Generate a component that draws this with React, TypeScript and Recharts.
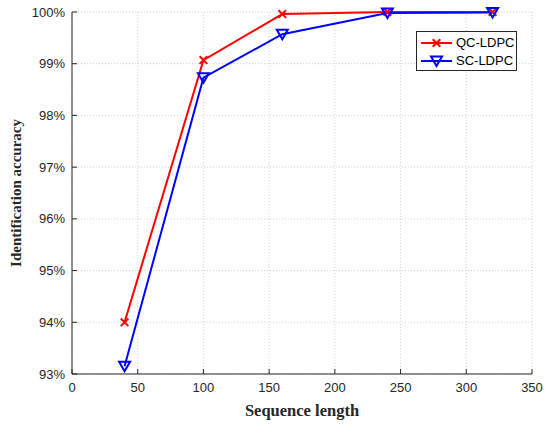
import React from "react";
import { CartesianGrid, Line, LineChart, XAxis, YAxis } from "recharts";

const seqLength = [40, 100, 160, 240, 320];
const qcAccuracy = [94.0, 99.07, 99.96, 100.0, 100.0];
const scAccuracy = [93.15, 98.73, 99.57, 99.98, 99.99];
const xTicks = [0, 50, 100, 150, 200, 250, 300, 350];
const yTicks = [93, 94, 95, 96, 97, 98, 99, 100];

const data = seqLength.map((len, i) => ({ len, qc: qcAccuracy[i], sc: scAccuracy[i] }));

const series = [
  { key: "qc", name: "QC-LDPC", color: "#ff0000", marker: "x" },
  { key: "sc", name: "SC-LDPC", color: "#0000ff", marker: "v" }
];

const tickFont = { fontFamily: "Liberation Sans, Arial, sans-serif", fontSize: 13, fill: "#262626" };
const labelFont = { fontFamily: "Liberation Serif, Times New Roman, serif", fontSize: 16, fontWeight: 700, fill: "#262626" };

function CrossDot(props: any) {
  const { cx, cy, stroke } = props;
  if (cx == null || cy == null) return null;
  const s = 3.8;
  return (
    <g stroke={stroke} strokeWidth={2}>
      <line x1={cx - s} y1={cy - s} x2={cx + s} y2={cy + s} />
      <line x1={cx - s} y1={cy + s} x2={cx + s} y2={cy - s} />
    </g>
  );
}

function TriangleDot(props: any) {
  const { cx, cy, stroke } = props;
  if (cx == null || cy == null) return null;
  const pts = `${cx - 5.5},${cy - 4.5} ${cx + 5.5},${cy - 4.5} ${cx},${cy + 5}`;
  return <polygon points={pts} fill="none" stroke={stroke} strokeWidth={2} />;
}

function Blank() {
  return <g />;
}

function LegendBox() {
  return (
    <div
      style={{
        position: "absolute",
        left: 416,
        top: 31,
        width: 99,
        height: 38,
        border: "1px solid #262626",
        background: "#fff",
        fontFamily: "Liberation Sans, Arial, sans-serif",
        fontSize: 13,
        color: "#000"
      }}
    >
      {series.map((s, i) => (
        <div key={s.key} style={{ position: "absolute", left: 3, top: 3 + i * 18, height: 15, display: "flex", alignItems: "center" }}>
          <svg width={34} height={14}>
            <line x1={1} y1={7} x2={32} y2={7} stroke={s.color} strokeWidth={2} />
            {s.marker === "x" ? <CrossDot cx={16.5} cy={7} stroke={s.color} /> : <TriangleDot cx={16.5} cy={7} stroke={s.color} />}
          </svg>
          <span style={{ marginLeft: 2 }}>{s.name}</span>
        </div>
      ))}
    </div>
  );
}

export default function App() {
  return (
    <div style={{ position: "absolute", left: 0, top: 0, width: 547, height: 424, background: "#fff" }}>
      <LineChart width={547} height={424} data={data} margin={{ top: 12, right: 15, bottom: 0, left: 0 }}>
        <CartesianGrid stroke="#c4c4c4" strokeDasharray="1 2" strokeWidth={0.8} />
        <XAxis
          dataKey="len"
          type="number"
          domain={[0, 350]}
          ticks={xTicks}
          height={50}
          tickSize={-5}
          tickMargin={14}
          stroke="#262626"
          tick={tickFont}
          interval={0}
          label={{ value: "Sequence length", position: "insideBottom", offset: 8, style: { ...labelFont, fontSize: 16.5 } }}
        />
        <XAxis xAxisId="top" orientation="top" type="number" domain={[0, 350]} ticks={xTicks} height={0} tickSize={-5} stroke="#262626" tick={<Blank />} />
        <YAxis
          type="number"
          domain={[93, 100]}
          ticks={yTicks}
          width={72}
          tickSize={-5}
          tickMargin={12}
          stroke="#262626"
          tick={tickFont}
          interval={0}
          tickFormatter={(v: number) => `${v}%`}
          label={{ value: "Identification accuracy", angle: -90, position: "insideLeft", offset: 16, style: { ...labelFont, fontSize: 15, textAnchor: "middle" } }}
        />
        <YAxis yAxisId="right" orientation="right" type="number" domain={[93, 100]} ticks={yTicks} width={0} tickSize={-5} stroke="#262626" tick={<Blank />} />
        {series.map((s) => (
          <Line
            key={s.key}
            dataKey={s.key}
            name={s.name}
            stroke={s.color}
            strokeWidth={2}
            type="linear"
            isAnimationActive={false}
            dot={s.marker === "x" ? <CrossDot /> : <TriangleDot />}
            activeDot={false}
          />
        ))}
      </LineChart>
      <LegendBox />
    </div>
  );
}
